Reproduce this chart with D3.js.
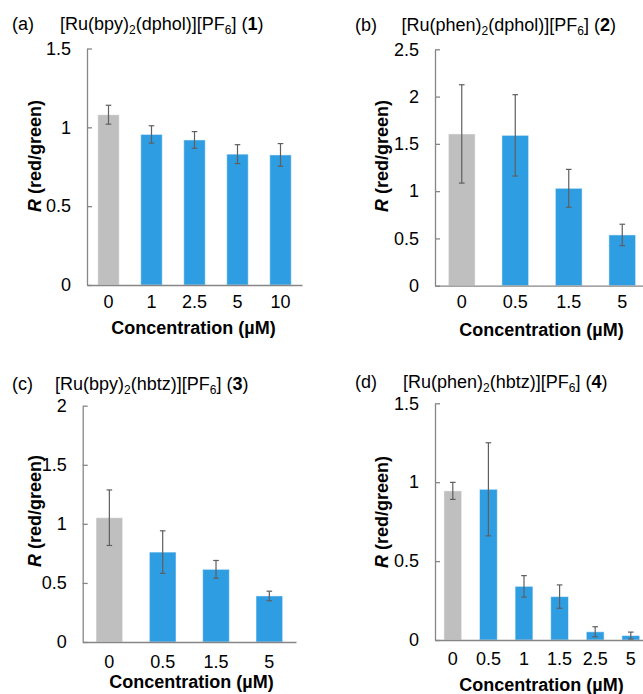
<!DOCTYPE html>
<html>
<head>
<meta charset="utf-8">
<script src="https://cdn.jsdelivr.net/npm/d3@7"></script>
<style>
  body { margin: 0; background: #fff; }
  svg { display: block; font-family: "Liberation Sans", Arial, sans-serif; }
</style>
</head>
<body>
<svg id="chart" width="643" height="694"></svg>
<script>
// ---- Data ----
const catsA = ["0", "1", "2.5", "5", "10"];
const valsA = [1.08, 0.955, 0.92, 0.83, 0.825];
const errA  = [0.06, 0.055, 0.053, 0.06, 0.072];
const ticksA = [0, 0.5, 1, 1.5];

const catsB = ["0", "0.5", "1.5", "5"];
const valsB = [1.605, 1.59, 1.03, 0.537];
const errB  = [0.52, 0.43, 0.2, 0.113];
const ticksB = [0, 0.5, 1, 1.5, 2, 2.5];

const catsC = ["0", "0.5", "1.5", "5"];
const valsC = [1.052, 0.761, 0.615, 0.39];
const errC  = [0.235, 0.18, 0.075, 0.04];
const ticksC = [0, 0.5, 1, 1.5, 2];

const catsD = ["0", "0.5", "1", "1.5", "2.5", "5"];
const valsD = [0.945, 0.955, 0.34, 0.275, 0.052, 0.028];
const errD  = [0.054, 0.295, 0.068, 0.074, 0.032, 0.022];
const ticksD = [0, 0.5, 1, 1.5];

const panelLabels = ["(a)", "(b)", "(c)", "(d)"];
// title segments: [text, kind] kind: n = normal, s = subscript, b = bold
const titleA = [["[Ru(bpy)", "n"], ["2", "s"], ["(dphol)][PF", "n"], ["6", "s"], ["] (", "n"], ["1", "b"], [")", "n"]];
const titleB = [["[Ru(phen)", "n"], ["2", "s"], ["(dphol)][PF", "n"], ["6", "s"], ["] (", "n"], ["2", "b"], [")", "n"]];
const titleC = [["[Ru(bpy)", "n"], ["2", "s"], ["(hbtz)][PF", "n"], ["6", "s"], ["] (", "n"], ["3", "b"], [")", "n"]];
const titleD = [["[Ru(phen)", "n"], ["2", "s"], ["(hbtz)][PF", "n"], ["6", "s"], ["] (", "n"], ["4", "b"], [")", "n"]];
const xTitle = "Concentration (\u00B5M)";
const yTitleItalic = "R";
const yTitleRest = " (red/green)";

// ---- Layout (positions only) ----
const layouts = [
  { x0: 87,  x1: 302,   yTop: 48.5,  y0: 285,   lab: [12, 29.5],  tit: [60, 29.5],   yl: [40.5, 156], xt: [193.5, 334], tk: 23 },
  { x0: 435, x1: 649,   yTop: 49.3,  y0: 285.7, lab: [355, 30.5], tit: [401.5, 30.5], yl: [388, 156], xt: [541.5, 336], tk: 22.8 },
  { x0: 82.7, x1: 296,  yTop: 405.7, y0: 642,   lab: [12, 390],   tit: [55, 389.5],  yl: [40.5, 511], xt: [191.5, 688], tk: 26 },
  { x0: 435, x1: 648.6, yTop: 403.3, y0: 640,   lab: [355, 387.5], tit: [403, 387.5], yl: [388, 512], xt: [541.5, 691], tk: 25 }
];

const panels = [
  { cats: catsA, vals: valsA, errs: errA, ticks: ticksA, title: titleA },
  { cats: catsB, vals: valsB, errs: errB, ticks: ticksB, title: titleB },
  { cats: catsC, vals: valsC, errs: errC, ticks: ticksC, title: titleC },
  { cats: catsD, vals: valsD, errs: errD, ticks: ticksD, title: titleD }
];

const GREY = "#bfbfbf", BLUE = "#2f9de2", AXIS = "#868686", ERR = "#5f5f5f";
const FS = 18;

const svg = d3.select("#chart");

panels.forEach((p, i) => {
  const L = layouts[i];
  const g = svg.append("g");

  const x = d3.scaleBand().domain(p.cats).range([L.x0, L.x1])
    .paddingInner(0.5).paddingOuter(0.25);
  const y = d3.scaleLinear().domain([0, d3.max(p.ticks)]).range([L.y0, L.yTop]);

  // bars
  g.selectAll("rect.bar").data(p.cats).join("rect")
    .attr("class", "bar")
    .attr("x", d => x(d))
    .attr("width", x.bandwidth())
    .attr("y", (d, j) => y(p.vals[j]))
    .attr("height", (d, j) => y(0) - y(p.vals[j]))
    .attr("fill", (d, j) => j === 0 ? GREY : BLUE)
    .attr("stroke", "#ffffff").attr("stroke-opacity", 0.5).attr("stroke-width", 1);

  // error bars
  const eg = g.selectAll("g.err").data(p.cats).join("g").attr("class", "err")
    .attr("stroke", ERR).attr("stroke-width", 1.2);
  const cx = d => x(d) + x.bandwidth() / 2;
  eg.append("line")
    .attr("x1", cx).attr("x2", cx)
    .attr("y1", (d, j) => y(p.vals[j] + p.errs[j]))
    .attr("y2", (d, j) => y(p.vals[j] - p.errs[j]));
  eg.append("line")
    .attr("x1", d => cx(d) - 2.8).attr("x2", d => cx(d) + 2.8)
    .attr("y1", (d, j) => y(p.vals[j] + p.errs[j]))
    .attr("y2", (d, j) => y(p.vals[j] + p.errs[j]));
  eg.append("line")
    .attr("x1", d => cx(d) - 2.8).attr("x2", d => cx(d) + 2.8)
    .attr("y1", (d, j) => y(p.vals[j] - p.errs[j]))
    .attr("y2", (d, j) => y(p.vals[j] - p.errs[j]));

  // y axis (ticks inside)
  const ya = g.append("g").attr("transform", `translate(${L.x0},0)`)
    .call(d3.axisLeft(y).tickValues(p.ticks).tickFormat(d => String(d))
      .tickSizeInner(-5).tickSizeOuter(0).tickPadding(16));
  ya.select(".domain").attr("stroke", AXIS).attr("stroke-width", 1.3);
  ya.selectAll(".tick line").attr("stroke", AXIS).attr("stroke-width", 1.3);
  ya.selectAll(".tick text").attr("font-size", FS).attr("fill", "#000")
    .attr("font-family", "Liberation Sans, Arial, sans-serif");

  // x axis
  const xa = g.append("g").attr("transform", `translate(0,${L.y0})`)
    .call(d3.axisBottom(x).tickSize(0).tickSizeOuter(0));
  xa.select(".domain").attr("stroke", AXIS).attr("stroke-width", 1.3);
  xa.selectAll(".tick text").attr("font-size", FS).attr("fill", "#000")
    .attr("font-family", "Liberation Sans, Arial, sans-serif")
    .attr("y", L.tk).attr("dy", 0);

  // panel label
  svg.append("text").attr("x", L.lab[0]).attr("y", L.lab[1])
    .attr("font-size", FS).text(panelLabels[i]);

  // title
  const t = svg.append("text").attr("x", L.tit[0]).attr("y", L.tit[1]).attr("font-size", FS);
  let shifted = false;
  p.title.forEach(([txt, kind]) => {
    const ts = t.append("tspan").text(txt);
    if (kind === "s") {
      ts.attr("font-size", 12).attr("dy", 4).attr("fill", "#000");
      shifted = true;
    } else {
      if (shifted) { ts.attr("dy", -4); shifted = false; }
      if (kind === "b") ts.attr("font-weight", "bold");
    }
  });

  // y title
  const yt = svg.append("text")
    .attr("transform", `translate(${L.yl[0]},${L.yl[1]}) rotate(-90)`)
    .attr("text-anchor", "middle").attr("font-size", FS).attr("font-weight", "bold");
  yt.append("tspan").attr("font-style", "italic").text(yTitleItalic);
  yt.append("tspan").text(yTitleRest);

  // x title
  svg.append("text").attr("x", L.xt[0]).attr("y", L.xt[1])
    .attr("text-anchor", "middle").attr("font-size", FS).attr("font-weight", "bold")
    .text(xTitle);
});
</script>
</body>
</html>
